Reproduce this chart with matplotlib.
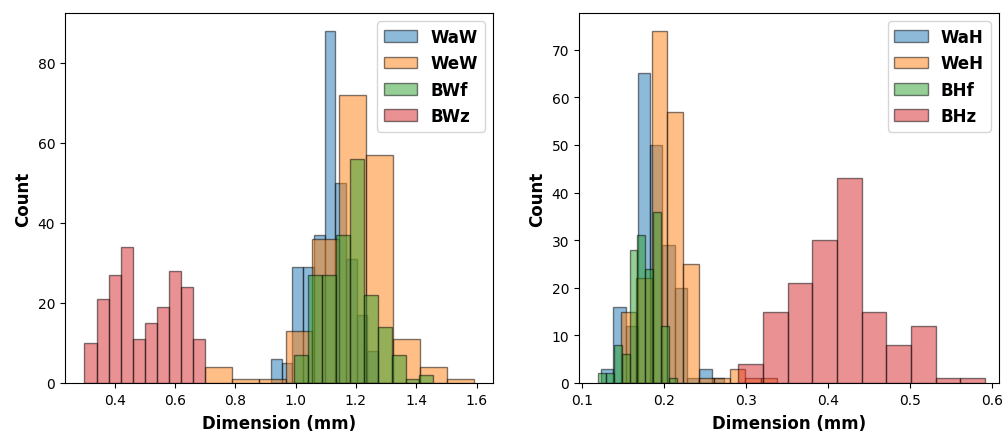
import numpy as np
import matplotlib
matplotlib.use("Agg")
import matplotlib.pyplot as plt

# ---- Left panel: widths ----
left_labels = ["WaW", "WeW", "BWf", "BWz"]
left_ranges = [(0.918, 1.274), (0.700, 1.590), (0.995, 1.457), (0.300, 0.700)]
WaW_counts = [6, 5, 29, 29, 37, 88, 50, 31, 17, 8]
WeW_counts = [4, 1, 1, 13, 36, 72, 57, 11, 4, 1]
BWf_counts = [7, 27, 27, 37, 56, 22, 14, 7, 1, 2]
BWz_counts = [10, 21, 27, 34, 11, 15, 19, 28, 24, 11]

# ---- Right panel: heights ----
right_labels = ["WaH", "WeH", "BHf", "BHz"]
right_ranges = [(0.1232, 0.2732), (0.1472, 0.3374), (0.1199, 0.2155), (0.2906, 0.5915)]
WaH_counts = [3, 16, 12, 65, 50, 29, 20, 1, 3, 1]
WeH_counts = [15, 22, 74, 57, 25, 1, 1, 3, 1, 1]
BHf_counts = [2, 2, 8, 6, 28, 31, 24, 36, 12, 1]
BHz_counts = [4, 15, 21, 30, 43, 15, 8, 12, 1, 1]

colors = ["#1f77b4", "#ff7f0e", "#2ca02c", "#d62728"]

W, H = 1006, 435
fig = plt.figure(figsize=(W / 100, H / 100), dpi=100)

def px_axes(x0, x1, y0, y1):
    return fig.add_axes([x0 / W, 1 - y1 / H, (x1 - x0) / W, (y1 - y0) / H])

axL = px_axes(65, 493, 14, 384)
axR = px_axes(579, 999, 14, 384)

def draw(ax, labels, ranges, counts_list):
    for lab, (lo, hi), cnt, col in zip(labels, ranges, counts_list, colors):
        edges = np.linspace(lo, hi, len(cnt) + 1)
        ax.bar(edges[:-1], cnt, width=np.diff(edges), align="edge",
               color=col, alpha=0.5, edgecolor="black", linewidth=1.0, label=lab)
    ax.set_xlabel("Dimension (mm)", fontweight="bold", fontsize=12, labelpad=5)
    ax.set_ylabel("Count", fontweight="bold", fontsize=12)
    ax.legend(loc="upper right", prop={"weight": "bold", "size": 12})
    ax.tick_params(labelsize=10)

draw(axL, left_labels, left_ranges, [WaW_counts, WeW_counts, BWf_counts, BWz_counts])
draw(axR, right_labels, right_ranges, [WaH_counts, WeH_counts, BHf_counts, BHz_counts])

axL.set_xlim(0.2355, 1.6545)
axL.set_ylim(0, 92.4)
axL.set_xticks([0.4, 0.6, 0.8, 1.0, 1.2, 1.4, 1.6])
axL.set_yticks([0, 20, 40, 60, 80])

axR.set_xlim(0.0964, 0.6085)
axR.set_ylim(0, 77.7)
axR.set_xticks([0.1, 0.2, 0.3, 0.4, 0.5, 0.6])
axR.set_yticks([0, 10, 20, 30, 40, 50, 60, 70])

fig.savefig("out.png", dpi=100)
